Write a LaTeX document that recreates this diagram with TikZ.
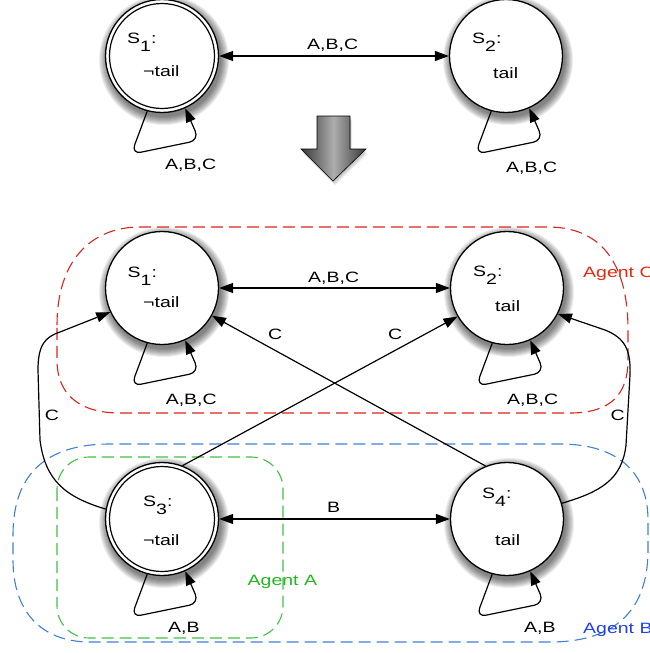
\documentclass[tikz,border=0pt]{standalone}
\usepackage{fontspec}
\setmainfont{Liberation Sans}[FakeStretch=1.3]
\usetikzlibrary{arrows.meta,calc}
\definecolor{agentC}{HTML}{D9261C}
\definecolor{agentCtext}{HTML}{E8280F}
\definecolor{agentB}{HTML}{3F80D8}
\definecolor{agentBtext}{HTML}{2040F0}
\definecolor{agentA}{HTML}{40C040}
\definecolor{agentAtext}{HTML}{20B820}
\newcommand\selfloop[1]{\draw[conn,rounded corners=10pt] (#1.-105) -- ++(-16,43) -- ++(68,-14) -- (#1.-66);}
\newcommand\sname[1]{S\raisebox{-8.5pt}{#1}:}
\newcommand\softshadow[2]{\foreach \rr in {57,58,...,65}
  \fill[black,opacity=0.07] (#1+2,#2+4) circle[radius=\rr pt];}
\begin{document}
\begin{tikzpicture}[x=1pt,y=-1pt,
  stnode/.style={circle,draw,fill=white,line width=1.3pt,minimum size=113pt,inner sep=0pt},
  txt/.style={anchor=base west,inner sep=0pt,font=\fontsize{15}{18}\selectfont},
  conn/.style={line width=1.2pt,-{Triangle[length=14pt,width=10pt]}},
  bidir/.style={line width=1.2pt,{Triangle[length=14pt,width=10pt]}-{Triangle[length=14pt,width=10pt]}},
  agentbox/.style={line width=1.1pt,dash pattern=on 12pt off 6pt}]
\useasboundingbox (0,0) rectangle (649,653);

% agent boxes
\draw[agentbox,agentC] (57,325) .. controls (57,262) and (90,227) .. (140,227) -- (548,227)
  .. controls (600,227) and (628,262) .. (628,330) -- (628,360)
  .. controls (628,395) and (610,413) .. (570,413) -- (120,413)
  .. controls (80,413) and (57,395) .. (57,360) -- cycle;
\draw[agentbox,agentB] (13,535) .. controls (13,475) and (45,444) .. (110,444) -- (560,444)
  .. controls (615,444) and (648,470) .. (648,520) -- (648,550)
  .. controls (648,615) and (610,642) .. (550,642) -- (90,642)
  .. controls (40,642) and (13,610) .. (13,560) -- cycle;
\draw[agentbox,agentA,rounded corners=32pt] (57,457) rectangle (283,638);

% shadows
\softshadow{162}{56}
\softshadow{506}{56}
\softshadow{162}{288}
\softshadow{507}{288}
\softshadow{162}{519}
\softshadow{507}{519}

% states
\node[stnode] (s1t) at (162,56) {};
\node[stnode] (s2t) at (506,56) {};
\node[stnode] (s1) at (162,288) {};
\node[stnode] (s2) at (507,288) {};
\node[stnode] (s3) at (162,519) {};
\node[stnode] (s4) at (507,519) {};
\draw[line width=1.2pt] (s1t.center) circle[radius=52.5pt];
\draw[line width=1.2pt] (s3.center) circle[radius=52.5pt];

% big arrow
\foreach \k in {1,...,5}
  \fill[black,opacity=0.06] ($(0.4*\k,0.9*\k)+(317,116)$) -- ++(33,0) -- ++(0,33) -- ++(16,0) -- ++(-33,32) -- ++(-32,-32) -- ++(16,0) -- cycle;
\shade[left color=black!78,right color=black!78,middle color=black!32,draw=black,line width=0.6pt]
  (317,116) -- (350,116) -- (350,149) -- (366,149) -- (333,181) -- (301,149) -- (317,149) -- cycle;

% edges
\draw[bidir] (s1t) -- (s2t);
\draw[bidir] (s1) -- (s2);
\draw[bidir] (s3) -- (s4);
\draw[conn] (s4.112) -- (s1.-29);
\draw[conn] (s3.69) -- (s2.210);
\draw[conn] (s3.170) .. controls (65,497) and (45,480) .. (40,440) -- (38,370)
  .. controls (38,345) and (45,337) .. (60,332) -- (s1.205);
\draw[conn] (s4.16) .. controls (600,492) and (622,480) .. (626,445) -- (630,375)
  .. controls (631,350) and (625,338) .. (605,330) -- (s2.-27);
\selfloop{s1t}
\selfloop{s2t}
\selfloop{s1}
\selfloop{s2}
\selfloop{s3}
\selfloop{s4}

% state texts
\node[txt] (l1t) at (127,43) {\sname{1}};
\node[txt] (v1t) at (143,76) {¬tail};
\node[txt] (l2t) at (472,43) {\sname{2}};
\node[txt] (v2t) at (493,78) {tail};
\node[txt] (l1) at (127.5,277) {\sname{1}};
\node[txt] (v1) at (143,307) {¬tail};
\node[txt] (l2) at (473,276) {\sname{2}};
\node[txt] (v2) at (495,311) {tail};
\node[txt] (l3) at (143,506) {\sname{3}};
\node[txt] (v3) at (143,545) {¬tail};
\node[txt] (l4) at (482,498) {\sname{4}};
\node[txt] (v4) at (495,545) {tail};

% edge labels
\node[txt] (e12t) at (307,49) {A,B,C};
\node[txt] (e12) at (308,282) {A,B,C};
\node[txt] (e34) at (327,512) {B};
\node[txt] (lp1t) at (165,169) {A,B,C};
\node[txt] (lp2t) at (506,172) {A,B,C};
\node[txt] (lp1) at (165.6,404) {A,B,C};
\node[txt] (lp2) at (507,404) {A,B,C};
\node[txt] (lp3) at (168,632) {A,B};
\node[txt] (lp4) at (524,632) {A,B};
\node[txt] (c41) at (268,339) {C};
\node[txt] (c32) at (388,339) {C};
\node[txt] (c31) at (44.7,420) {C};
\node[txt] (c42) at (610.5,420) {C};

% agent labels
\node[txt,text=agentCtext] (agc) at (583,277) {Agent C};
\node[txt,text=agentBtext] (agb) at (583,633) {Agent B};
\node[txt,text=agentAtext] (aga) at (247.5,585) {Agent A};
\end{tikzpicture}
\end{document}
